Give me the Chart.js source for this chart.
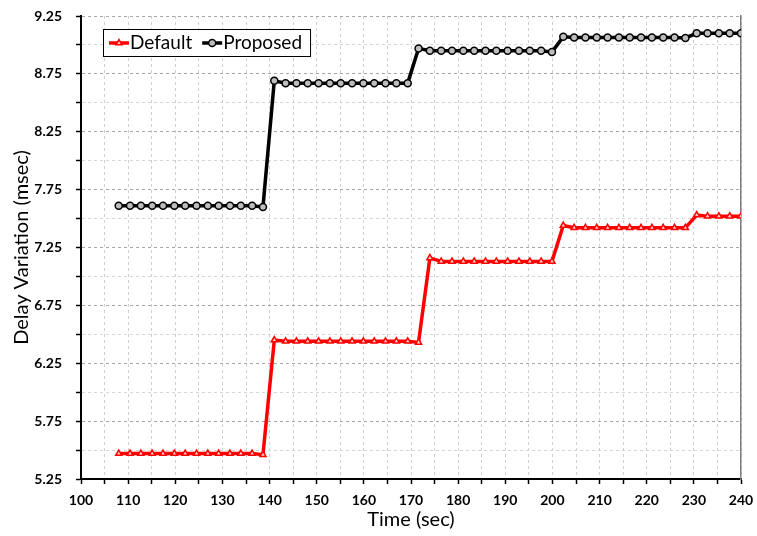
<!DOCTYPE html>
<html>
<head>
<meta charset="utf-8">
<script src="https://cdn.jsdelivr.net/npm/chart.js@4/dist/chart.umd.min.js"></script>
<style>
  html, body { margin: 0; padding: 0; background: #fff; }
  #wrap { width: 757px; height: 536px; }
</style>
</head>
<body>
<div id="wrap"><canvas id="delayChart" width="757" height="536"></canvas></div>
<script>
// sample times (sec)
const timeSec = [
  108.0, 110.4, 112.7, 115.1, 117.4, 119.8, 122.1, 124.5, 126.9, 129.2,
  131.6, 133.9, 136.3, 138.6, 141.0, 143.4, 145.7, 148.1, 150.4, 152.8,
  155.1, 157.5, 159.9, 162.2, 164.6, 166.9, 169.3, 171.6, 174.0, 176.4,
  178.7, 181.1, 183.4, 185.8, 188.1, 190.5, 192.9, 195.2, 197.6, 199.9,
  202.3, 204.6, 207.0, 209.4, 211.7, 214.1, 216.4, 218.8, 221.1, 223.5,
  225.9, 228.2, 230.6, 232.9, 235.3, 237.6, 240.0,
];

// delay variation (msec)
const defaultDelay = [
  5.47, 5.47, 5.47, 5.47, 5.47, 5.47, 5.47, 5.47, 5.47, 5.47,
  5.47, 5.47, 5.47, 5.46, 6.45, 6.44, 6.44, 6.44, 6.44, 6.44,
  6.44, 6.44, 6.44, 6.44, 6.44, 6.44, 6.44, 6.43, 7.16, 7.13,
  7.13, 7.13, 7.13, 7.13, 7.13, 7.13, 7.13, 7.13, 7.13, 7.13,
  7.44, 7.42, 7.42, 7.42, 7.42, 7.42, 7.42, 7.42, 7.42, 7.42,
  7.42, 7.42, 7.53, 7.52, 7.52, 7.52, 7.52,
];

const proposedDelay = [
  7.61, 7.61, 7.61, 7.61, 7.61, 7.61, 7.61, 7.61, 7.61, 7.61,
  7.61, 7.61, 7.61, 7.60, 8.69, 8.67, 8.67, 8.67, 8.67, 8.67,
  8.67, 8.67, 8.67, 8.67, 8.67, 8.67, 8.67, 8.97, 8.95, 8.95,
  8.95, 8.95, 8.95, 8.95, 8.95, 8.95, 8.95, 8.95, 8.95, 8.94,
  9.07, 9.065, 9.065, 9.065, 9.065, 9.065, 9.065, 9.065, 9.065, 9.065,
  9.065, 9.06, 9.10, 9.10, 9.10, 9.10, 9.10,
];

const seriesNames = ['Default', 'Proposed'];
const FONT = 'Lato, "Open Sans", sans-serif';

const toPoints = (ys) => ys.map((y, i) => ({ x: timeSec[i], y }));

// boxed legend drawn inside the plot, top-left
const insideLegend = {
  id: 'insideLegend',
  afterDraw(chart) {
    const { ctx, chartArea } = chart;
    const x0 = chartArea.left + 22;
    const y0 = chartArea.top + 13;
    const h = 27;
    const sample = 20;
    const gap = 10;
    ctx.save();
    ctx.font = `19px ${FONT}`;
    ctx.textBaseline = 'middle';
    const widths = chart.data.datasets.map((ds) => ctx.measureText(ds.label).width);
    const w = 6 + widths.reduce((a, b) => a + sample + 1 + b, 0) + gap * (widths.length - 1) + 8;
    ctx.fillStyle = '#fff';
    ctx.fillRect(x0, y0, w, h);
    ctx.strokeStyle = '#000';
    ctx.lineWidth = 1;
    ctx.strokeRect(x0 + 0.5, y0 + 0.5, w, h);

    let x = x0 + 6;
    const cy = y0 + h / 2 + 0.5;
    chart.data.datasets.forEach((ds, i) => {
      ctx.strokeStyle = ds.borderColor;
      ctx.lineWidth = ds.borderWidth;
      ctx.beginPath();
      ctx.moveTo(x, cy);
      ctx.lineTo(x + sample, cy);
      ctx.stroke();
      ctx.fillStyle = ds.pointBackgroundColor;
      ctx.strokeStyle = ds.pointBorderColor;
      ctx.lineWidth = ds.pointBorderWidth;
      Chart.helpers.drawPoint(ctx, {
        pointStyle: ds.pointStyle,
        radius: ds.pointRadius,
        borderWidth: ds.pointBorderWidth,
        rotation: 0,
      }, x + sample / 2, cy);
      ctx.fillStyle = '#000';
      ctx.fillText(ds.label, x + sample + 1, cy);
      x += sample + 1 + widths[i] + gap;
    });
    ctx.restore();
  },
};

const isMajorY = (v) => Math.abs(((v - 5.25) / 0.5) - Math.round((v - 5.25) / 0.5)) < 1e-6;

new Chart(document.getElementById('delayChart'), {
  type: 'line',
  data: {
    datasets: [
      {
        label: seriesNames[0],
        data: toPoints(defaultDelay),
        borderColor: '#ff0000',
        borderWidth: 3.5,
        pointStyle: 'triangle',
        pointRadius: 3.5,
        pointBorderWidth: 1.5,
        pointBorderColor: '#ff0000',
        pointBackgroundColor: '#ffd0d0',
        tension: 0,
      },
      {
        label: seriesNames[1],
        data: toPoints(proposedDelay),
        borderColor: '#000000',
        borderWidth: 3.5,
        pointStyle: 'circle',
        pointRadius: 3.5,
        pointBorderWidth: 1.5,
        pointBorderColor: '#000000',
        pointBackgroundColor: '#bdbdbd',
        tension: 0,
      },
    ],
  },
  options: {
    responsive: false,
    animation: false,
    layout: { padding: { top: 16, right: 16, left: 0, bottom: 0 } },
    plugins: { legend: { display: false }, tooltip: { enabled: false } },
    scales: {
      x: {
        type: 'linear',
        min: 100,
        max: 240,
        afterFit: (s) => { s.height = 57; s.paddingLeft = 0; s.paddingRight = 0; },
        ticks: {
          stepSize: 5,
          autoSkip: false,
          maxRotation: 0,
          padding: 8,
          color: '#000',
          font: { family: FONT, size: 14, weight: 'bold' },
          callback: (v) => (v % 10 === 0 ? String(v) : ''),
        },
        grid: { color: '#cfcfcf', lineWidth: 1, tickLength: 5, tickColor: '#000', tickWidth: 1.5 },
        border: { color: '#000', width: 2, dash: [3, 3] },
        title: {
          display: true,
          text: 'Time (sec)',
          color: '#000',
          font: { family: FONT, size: 20 },
          padding: { top: 0, bottom: 4 },
        },
      },
      y: {
        min: 5.25,
        max: 9.25,
        afterFit: (s) => { s.width = 81; s.paddingTop = 0; s.paddingBottom = 0; },
        ticks: {
          stepSize: 0.25,
          autoSkip: false,
          padding: 14,
          color: '#000',
          font: { family: FONT, size: 14, weight: 'bold' },
          callback: (v) => (isMajorY(v) ? v.toFixed(2) : ''),
        },
        grid: {
          color: (c) => (isMajorY(c.tick.value) ? '#a6a6a6' : '#d6d6d6'),
          lineWidth: 1,
          tickLength: 5,
          tickColor: '#000',
          tickWidth: 1.5,
        },
        border: { color: '#000', width: 2, dash: [3, 3] },
        title: {
          display: true,
          text: 'Delay Variation (msec)',
          color: '#000',
          font: { family: FONT, size: 20 },
          padding: { top: 10, bottom: 0 },
        },
      },
      frame: {
        type: 'linear',
        position: 'right',
        min: 5.25,
        max: 9.25,
        afterFit: (s) => { s.width = 0; s.paddingTop = 0; s.paddingBottom = 0; },
        ticks: { display: false },
        grid: { drawOnChartArea: false, drawTicks: false },
        border: { color: '#7f7f7f', width: 1.5 },
      },
    },
  },
  plugins: [insideLegend],
});
</script>
</body>
</html>
